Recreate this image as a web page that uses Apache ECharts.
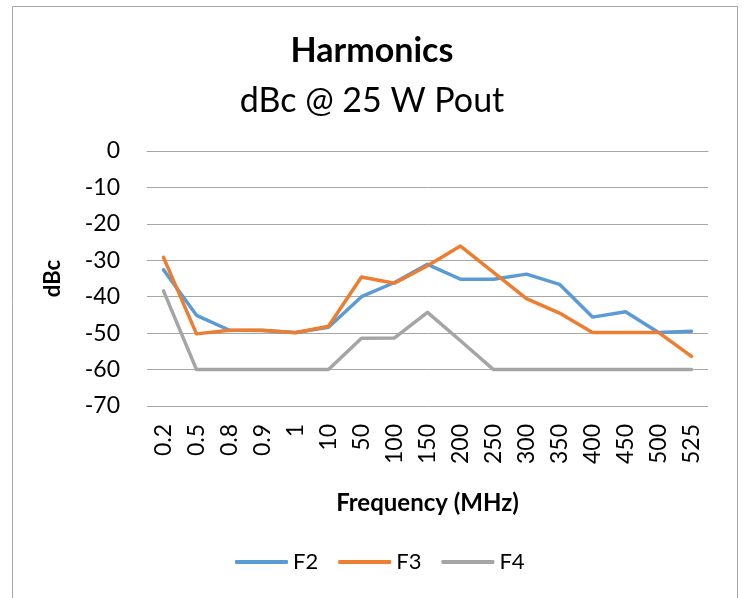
<!DOCTYPE html>
<html>
<head>
<meta charset="utf-8">
<script src="https://cdn.jsdelivr.net/npm/echarts@6/dist/echarts.min.js"></script>
<style>
html,body{margin:0;padding:0;background:#fff;}
#c{width:744px;height:598px;}
</style>
</head>
<body>
<div id="c"></div>
<script>
const categories = ['0.2','0.5','0.8','0.9','1','10','50','100','150','200','250','300','350','400','450','500','525'];
const f2 = [-32.6, -45.1, -49.2, -49.3, -49.8, -48.4, -40.0, -36.1, -31.1, -35.2, -35.2, -33.8, -36.6, -45.6, -44.1, -49.8, -49.5];
const f3 = [-29.2, -50.2, -49.2, -49.2, -49.9, -48.1, -34.6, -36.3, -31.5, -26.1, -33.3, -40.5, -44.5, -49.8, -49.8, -49.8, -56.4];
const f4 = [-38.4, -60.0, -60.0, -60.0, -60.0, -60.0, -51.4, -51.3, -44.3, -52.1, -60.0, -60.0, -60.0, -60.0, -60.0, -60.0, -60.0];
const yTicks = {min: -70, max: 0, interval: 10};

const FONT = 'Lato';
const chart = echarts.init(document.getElementById('c'), null, {renderer: 'canvas'});
const mk = (name, data, color) => ({
  name, type: 'line', data, symbol: 'none', smooth: false,
  lineStyle: {color, width: 3.5, cap: 'round', join: 'round'},
  itemStyle: {color},
  animation: false
});
chart.setOption({
  animation: false,
  textStyle: {fontFamily: FONT, color: '#000'},
  graphic: [{
    type: 'rect', shape: {x: 12.5, y: 6.5, width: 725, height: 640},
    style: {fill: 'none', stroke: '#a6a6a6', lineWidth: 1}, silent: true, z: -1
  }],
  title: [
    {text: 'Harmonics', left: 'center', top: 29, textStyle: {fontFamily: FONT, fontSize: 34, fontWeight: 'bold', color: '#000'}},
    {text: 'dBc @ 25 W Pout', left: 'center', top: 79, textStyle: {fontFamily: FONT, fontSize: 34, fontWeight: 'normal', color: '#000'}}
  ],
  grid: {left: 147, right: 36, top: 151, height: 255, containLabel: false},
  xAxis: {
    type: 'category', data: categories, boundaryGap: true,
    axisLine: {show: true, lineStyle: {color: '#a6a6a6', width: 1}},
    axisTick: {show: false},
    axisLabel: {rotate: 90, margin: 18, fontSize: 23, color: '#000', fontFamily: FONT, interval: 0},
    name: 'Frequency (MHz)', nameLocation: 'middle', nameGap: 85,
    nameTextStyle: {fontSize: 24, fontWeight: 'bold', color: '#000', fontFamily: FONT}
  },
  yAxis: {
    type: 'value', min: yTicks.min, max: yTicks.max, interval: yTicks.interval,
    axisLine: {show: false}, axisTick: {show: false},
    splitLine: {lineStyle: {color: '#a6a6a6', width: 1}},
    axisLabel: {margin: 27, fontSize: 23, color: '#000', fontFamily: FONT},
    name: 'dBc', nameLocation: 'middle', nameGap: 83, nameRotate: 90,
    nameTextStyle: {fontSize: 22, fontWeight: 'bold', color: '#000', fontFamily: FONT}
  },
  legend: {
    data: ['F2', 'F3', 'F4'], left: 235, top: 551, padding: 0,
    icon: 'roundRect', itemWidth: 53, itemHeight: 4, itemGap: 20,
    textStyle: {fontSize: 22, color: '#000', fontFamily: FONT}
  },
  series: [mk('F2', f2, '#5B9BD5'), mk('F3', f3, '#ED7D31'), mk('F4', f4, '#A5A5A5')]
});
</script>
</body>
</html>
